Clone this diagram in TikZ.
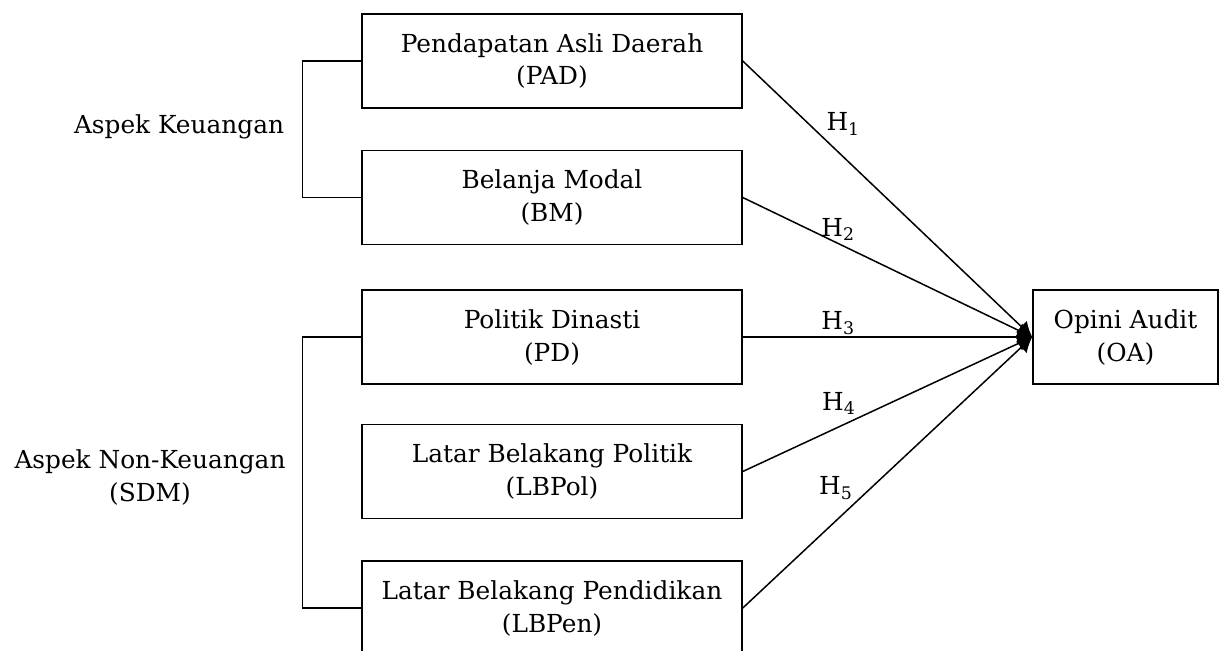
\documentclass[tikz,border=0pt]{standalone}
\usepackage{fontspec}
\setmainfont{DejaVu Serif}
\usetikzlibrary{arrows.meta}

\begin{document}
\begin{tikzpicture}[x=0.5pt,y=-0.5pt,
    font=\fontsize{12.4}{16.5}\selectfont,
    box/.style={draw,line width=0.75pt,minimum width=190pt,minimum height=47pt,align=center,inner sep=2pt},
    hyp/.style={-{Latex[length=7.5pt,width=8pt]},line width=0.75pt},
    lbl/.style={inner sep=1pt}]
      \useasboundingbox (0,0) rectangle (1220,650);
      \clip (0,0) rectangle (1220,650);
      \node[box] (pad) at (552,61) {Pendapatan Asli Daerah\\(PAD)};
      \node[box] (bm) at (552,197.5) {Belanja Modal\\(BM)};
      \node[box] (pd) at (552,337) {Politik Dinasti\\(PD)};
      \node[box] (lbpol) at (552,471.5) {Latar Belakang Politik\\(LBPol)};
      \node[box] (lbpen) at (552,608) {Latar Belakang Pendidikan\\(LBPen)};
      \node[box,minimum width=92.5pt] (oa) at (1125.5,337) {Opini Audit\\(OA)};
      \node (keu) at (179,127) {Aspek Keuangan};
      \node[align=center] (nonkeu) at (150,477) {Aspek Non-Keuangan\\(SDM)};
      % brackets
      \draw[line width=0.75pt] (pad.west) -- ++(-59,0) |- (bm.west);
      \draw[line width=0.75pt] (pd.west) -- ++(-59,0) |- (lbpen.west);
      % hypotheses
      \draw[hyp] (pad.east) -- node[lbl,pos=0.28,anchor=south west] {H\textsubscript{1}} (oa.west);
      \draw[hyp] (bm.east) -- node[lbl,pos=0.33,anchor=south] {H\textsubscript{2}} (oa.west);
      \draw[hyp] (pd.east) -- node[lbl,pos=0.33,anchor=south] {H\textsubscript{3}} (oa.west);
      \draw[hyp] (lbpol.east) -- node[lbl,pos=0.40,anchor=south east] {H\textsubscript{4}} (oa.west);
      \draw[hyp] (lbpen.east) -- node[lbl,pos=0.39,anchor=south east] {H\textsubscript{5}} (oa.west);
    \end{tikzpicture}
\end{document}
